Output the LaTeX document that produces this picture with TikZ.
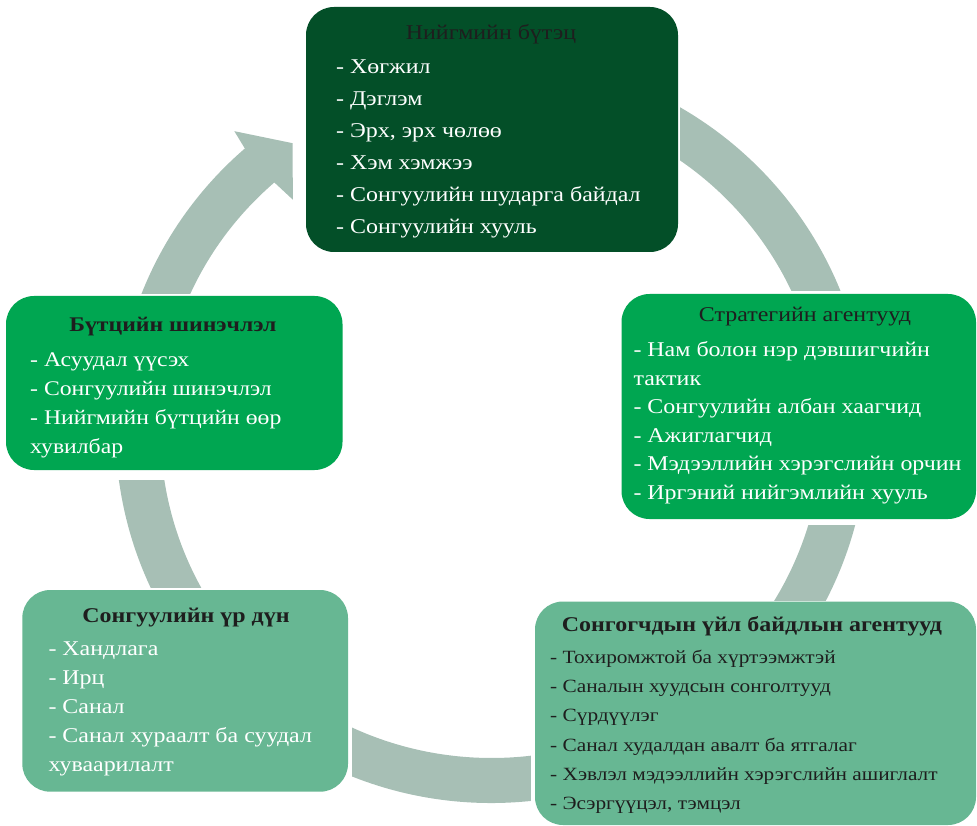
\documentclass[tikz,border=0pt]{standalone}
\usepackage{fontspec}
\setmainfont{Liberation Serif}[FakeStretch=1.14]
\definecolor{darkbox}{RGB}{3,79,40}
\definecolor{greenbox}{RGB}{0,166,81}
\definecolor{paleBox}{RGB}{103,183,147}
\definecolor{ringc}{RGB}{167,191,181}
\definecolor{titlec}{RGB}{30,30,30}
\begin{document}
\begin{tikzpicture}[x=1pt,y=-1pt,
  panel/.style={rounded corners=28pt, inner sep=0pt, outer sep=0pt},
  ringfill/.style={fill=ringc},
  maskfill/.style={fill=white},
  ttl/.style={anchor=base, inner sep=0pt, text=titlec},
  item/.style={anchor=base west, inner sep=0pt}]
\useasboundingbox (0,0) rectangle (977,826);
% ring with arrowhead
\coordinate (cen) at (491.5,430);
\fill[ringfill] ([shift={(491.5,430)}]-95:376 and 373) arc[start angle=-95, end angle=229.5, x radius=376, y radius=373]
  -- ([shift={(491.5,430)}]229.5:331 and 328) arc[start angle=229.5, end angle=-95, x radius=331, y radius=328] -- cycle;
\fill[ringfill] ([shift={(491.5,430)}]229:376 and 373) -- ([shift={(491.5,430)}]229.5:396 and 393)
  -- ([shift={(491.5,430)}]235.5:351 and 348) -- ([shift={(491.5,430)}]229.5:306 and 303)
  -- ([shift={(491.5,430)}]229:331 and 328) -- cycle;
% white gaps around the boxes
\fill[maskfill] (300,0) rectangle (680,256);
\fill[maskfill] (617,291) rectangle (977,525);
\fill[maskfill] (0,294) rectangle (346,480);
\fill[maskfill] (531,601) rectangle (977,826);
\fill[maskfill] (0,588) rectangle (352,800);
% boxes
\node[panel, fill=darkbox, minimum width=372pt, minimum height=245pt] (top) at (492,129.5) {};
\node[panel, fill=greenbox, minimum width=354.5pt, minimum height=225pt] (strat) at (798.75,406.5) {};
\node[panel, fill=greenbox, minimum width=336.5pt, minimum height=174pt] (renew) at (174.25,383) {};
\node[panel, fill=paleBox, minimum width=441pt, minimum height=223.5pt] (voter) at (755.5,713.25) {};
\node[panel, fill=paleBox, minimum width=325.7pt, minimum height=201.7pt] (result) at (185.15,690.85) {};
% titles
\node[ttl, font=\fontsize{21}{26}\selectfont] (topT) at (491,39.3) {Нийгмийн бүтэц};
\node[ttl, font=\fontsize{21}{25}\selectfont] (stratT) at (805,321.7) {Стратегийн агентууд};
\node[ttl, font=\fontsize{20.8}{25}\selectfont\bfseries] (renewT) at (173,331.7) {Бүтцийн шинэчлэл};
\node[ttl, font=\fontsize{21}{25}\selectfont\bfseries] (voterT) at (752,631) {Сонгогчдын үйл байдлын агентууд};
\node[ttl, font=\fontsize{21}{25}\selectfont\bfseries] (resultT) at (186,622.3) {Сонгуулийн үр дүн};
% lists
\foreach \t [count=\i] in {{- Хөгжил},{- Дэглэм},{- Эрх, эрх чөлөө},{- Хэм хэмжээ},{- Сонгуулийн шударга байдал},{- Сонгуулийн хууль}}
  \node[item, text=white, font=\fontsize{21}{26}\selectfont] (top-\i) at (336,{73.3+32*(\i-1)}) {\t};
\foreach \t [count=\i] in {{- Нам болон нэр дэвшигчийн},{тактик},{- Сонгуулийн албан хаагчид},{- Ажиглагчид},{- Мэдээллийн хэрэгслийн орчин},{- Иргэний нийгэмлийн хууль}}
  \node[item, text=white, font=\fontsize{21}{25}\selectfont] (strat-\i) at (633.3,{356.7+28.5*(\i-1)}) {\t};
\foreach \t [count=\i] in {{- Асуудал үүсэх},{- Сонгуулийн шинэчлэл},{- Нийгмийн бүтцийн өөр},{хувилбар}}
  \node[item, text=white, font=\fontsize{20.8}{25}\selectfont] (renew-\i) at (30,{366+29.1*(\i-1)}) {\t};
\foreach \t [count=\i] in {{- Тохиромжтой ба хүртээмжтэй},{- Саналын хуудсын сонголтууд},{- Сүрдүүлэг},{- Санал худалдан авалт ба ятгалаг},{- Хэвлэл мэдээллийн хэрэгслийн ашиглалт},{- Эсэргүүцэл, тэмцэл}}
  \node[item, text=titlec, font=\fontsize{18.7}{23}\selectfont] (voter-\i) at (550,{663.3+29.3*(\i-1)}) {\t};
\foreach \t [count=\i] in {{- Хандлага},{- Ирц},{- Санал},{- Санал хураалт ба суудал},{хуваарилалт}}
  \node[item, text=white, font=\fontsize{21}{25}\selectfont] (result-\i) at (48.3,{655.7+29*(\i-1)}) {\t};
\end{tikzpicture}
\end{document}
